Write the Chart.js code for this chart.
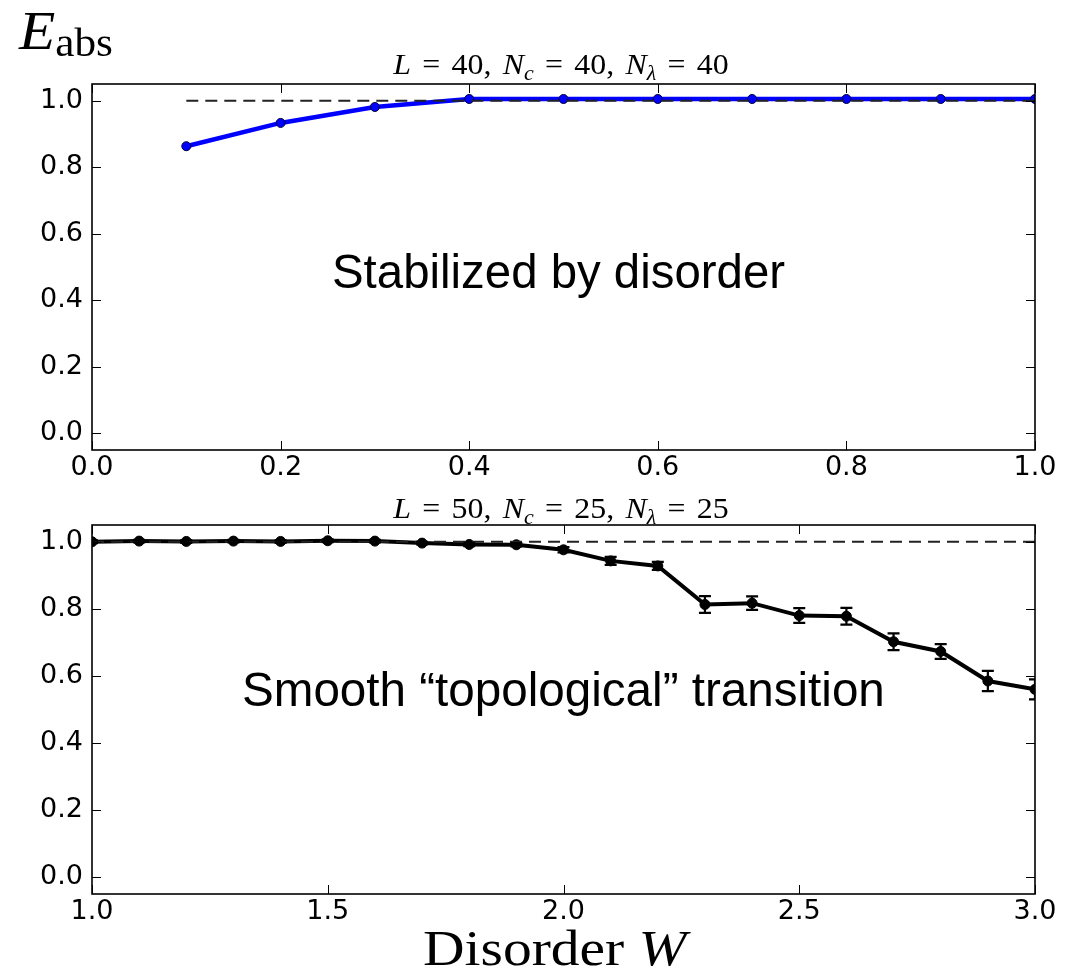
<!DOCTYPE html>
<html><head><meta charset="utf-8">
<script src="https://cdn.jsdelivr.net/npm/chart.js@4"></script>
<style>
html,body{margin:0;padding:0;background:#fff;}
body{width:1084px;height:970px;overflow:hidden;position:relative;}
canvas{position:absolute;left:0;}
#c1{top:0;}
#c2{top:490px;}
.t{position:absolute;white-space:nowrap;color:#000;line-height:1;}
.serif{font-family:"Liberation Serif","Times New Roman",serif;}
.sans{font-family:"Liberation Sans",Arial,sans-serif;}
.ttl{font-size:29px;word-spacing:3px;transform:translateX(-50%) scaleX(1.1);}
.sub{font-size:20px;position:relative;top:6px;}
</style></head>
<body>
<canvas id="c1" width="1084" height="490"></canvas>
<canvas id="c2" width="1084" height="480"></canvas>

<div class="t serif" style="left:19px;top:3px;font-size:55px;transform:scaleX(1.08);transform-origin:left top;"><i>E</i><span style="font-size:40px;position:relative;top:7px;">abs</span></div>
<div class="t serif ttl" style="left:561px;top:50px;"><i>L</i> = 40, <i>N</i><span class="sub"><i>c</i></span> = 40, <i>N</i><span class="sub"><i>λ</i></span> = 40</div>
<div class="t serif ttl" style="left:561px;top:494px;"><i>L</i> = 50, <i>N</i><span class="sub"><i>c</i></span> = 25, <i>N</i><span class="sub"><i>λ</i></span> = 25</div>
<div class="t sans" style="left:332px;top:248px;font-size:47.4px;">Stabilized by disorder</div>
<div class="t sans" style="left:242px;top:666px;font-size:47.6px;">Smooth “topological” transition</div>
<div class="t serif" style="left:423px;top:923px;font-size:50px;transform:scaleX(1.15);transform-origin:left top;">Disorder <i>W</i></div>

<script>
// ---- data ----
const topW = [0.1, 0.2, 0.3, 0.4, 0.5, 0.6, 0.7, 0.8, 0.9, 1.0];
const topE = [0.863, 0.933, 0.981, 1.005, 1.005, 1.005, 1.005, 1.005, 1.005, 1.005];
const botW = [1.0, 1.1, 1.2, 1.3, 1.4, 1.5, 1.6, 1.7, 1.8, 1.9, 2.0, 2.1, 2.2, 2.3, 2.4, 2.5, 2.6, 2.7, 2.8, 2.9, 3.0];
const botE = [1.000, 1.002, 1.001, 1.002, 1.001, 1.003, 1.002, 0.996, 0.992, 0.991, 0.976, 0.943, 0.928, 0.813, 0.817, 0.780, 0.778, 0.702, 0.673, 0.585, 0.560];
const botErr = [0.004, 0.004, 0.004, 0.004, 0.004, 0.004, 0.004, 0.004, 0.005, 0.005, 0.008, 0.012, 0.012, 0.025, 0.020, 0.022, 0.025, 0.025, 0.022, 0.030, 0.030];
const refTopW = [0.1, 1.0];
const refBotW = [1.0, 3.0];
const refLevel = 1.0;
const yTicks = [0.0, 0.2, 0.4, 0.6, 0.8, 1.0];
const topXTicks = [0.0, 0.2, 0.4, 0.6, 0.8, 1.0];
const botXTicks = [1.0, 1.5, 2.0, 2.5, 3.0];

const pts = (xs, ys) => xs.map((x, i) => ({x: x, y: ys[i]}));
const refPts = (xs) => xs.map(x => ({x: x, y: refLevel}));

const tickFont = {family: 'DejaVu Sans', size: 27};

const framePlugin = {
  id: 'frame',
  afterDatasetsDraw(chart) {
    const {ctx, chartArea: a, scales} = chart;
    ctx.save();
    ctx.strokeStyle = '#000';
    ctx.lineWidth = 1;
    const L = 9;
    ctx.beginPath();
    scales.x.ticks.forEach(t => {
      const px = Math.round(scales.x.getPixelForValue(t.value)) + 0.5;
      ctx.moveTo(px, a.bottom); ctx.lineTo(px, a.bottom - L);
      ctx.moveTo(px, a.top); ctx.lineTo(px, a.top + L);
    });
    scales.y.ticks.forEach(t => {
      const py = Math.round(scales.y.getPixelForValue(t.value)) + 0.5;
      ctx.moveTo(a.left, py); ctx.lineTo(a.left + L, py);
      ctx.moveTo(a.right, py); ctx.lineTo(a.right - L, py);
    });
    ctx.stroke();
    ctx.lineWidth = 1.6;
    ctx.strokeRect(a.left, a.top, a.right - a.left, a.bottom - a.top);
    ctx.restore();
  }
};

const errPlugin = {
  id: 'errbars',
  afterDatasetsDraw(chart, args, opts) {
    if (!opts.err) return;
    const {ctx, chartArea: a, scales} = chart;
    const ds = chart.data.datasets[opts.datasetIndex];
    ctx.save();
    ctx.beginPath();
    ctx.rect(a.left, a.top, a.right - a.left, a.bottom - a.top);
    ctx.clip();
    ctx.strokeStyle = '#000';
    ctx.lineWidth = 2.2;
    ds.data.forEach((p, i) => {
      const e = opts.err[i];
      const px = scales.x.getPixelForValue(p.x);
      const y1 = scales.y.getPixelForValue(p.y - e);
      const y2 = scales.y.getPixelForValue(p.y + e);
      ctx.beginPath();
      ctx.moveTo(px, y1); ctx.lineTo(px, y2);
      ctx.moveTo(px - 6, y1); ctx.lineTo(px + 6, y1);
      ctx.moveTo(px - 6, y2); ctx.lineTo(px + 6, y2);
      ctx.stroke();
    });
    ctx.restore();
  }
};

function makeScales(xmin, xmax, xTicks, xHeight) {
  return {
    x: {
      type: 'linear', min: xmin, max: xmax,
      afterBuildTicks: s => { s.ticks = xTicks.map(v => ({value: v})); },
      afterFit: s => { s.height = xHeight; },
      ticks: {callback: v => Number(v).toFixed(1), font: tickFont, color: '#000', padding: 2, maxRotation: 0, autoSkip: false},
      grid: {display: false, drawTicks: false},
      border: {display: false}
    },
    y: {
      type: 'linear', min: -0.05, max: 1.05,
      afterBuildTicks: s => { s.ticks = yTicks.map(v => ({value: v})); },
      afterFit: s => { s.width = 92; },
      ticks: {callback: v => Number(v).toFixed(1), font: tickFont, color: '#000', padding: 9, autoSkip: false},
      grid: {display: false, drawTicks: false},
      border: {display: false}
    }
  };
}

const common = {
  responsive: false,
  animation: false,
  events: [],
  plugins: {legend: {display: false}, tooltip: {enabled: false}, title: {display: false}}
};

new Chart(document.getElementById('c1'), {
  type: 'scatter',
  data: {datasets: [
    {data: pts(topW, topE), showLine: true, borderColor: '#0000ff', borderWidth: 4.5,
     pointRadius: 4.5, pointBackgroundColor: '#0000ff', pointBorderColor: '#00003a', pointBorderWidth: 1, order: 2},
    {data: refPts(refTopW), showLine: true, borderColor: '#222', borderWidth: 2, borderDash: [12, 7],
     pointRadius: 0, order: 1}
  ]},
  options: Object.assign({}, common, {
    layout: {padding: {top: 84, right: 49, left: 0, bottom: 0}},
    scales: makeScales(0, 1, topXTicks, 40),
    plugins: Object.assign({}, common.plugins, {errbars: {}})
  }),
  plugins: [framePlugin]
});

new Chart(document.getElementById('c2'), {
  type: 'scatter',
  data: {datasets: [
    {data: pts(botW, botE), showLine: true, borderColor: '#000', borderWidth: 4,
     pointRadius: 5, pointBackgroundColor: '#000', pointBorderColor: '#000', pointBorderWidth: 1, order: 2},
    {data: refPts(refBotW), showLine: true, borderColor: '#222', borderWidth: 2, borderDash: [12, 7],
     pointRadius: 0, order: 1}
  ]},
  options: Object.assign({}, common, {
    layout: {padding: {top: 35, right: 49, left: 0, bottom: 0}},
    scales: makeScales(1, 3, botXTicks, 76),
    plugins: Object.assign({}, common.plugins, {errbars: {err: botErr, datasetIndex: 0}})
  }),
  plugins: [framePlugin, errPlugin]
});
</script>
</body></html>
